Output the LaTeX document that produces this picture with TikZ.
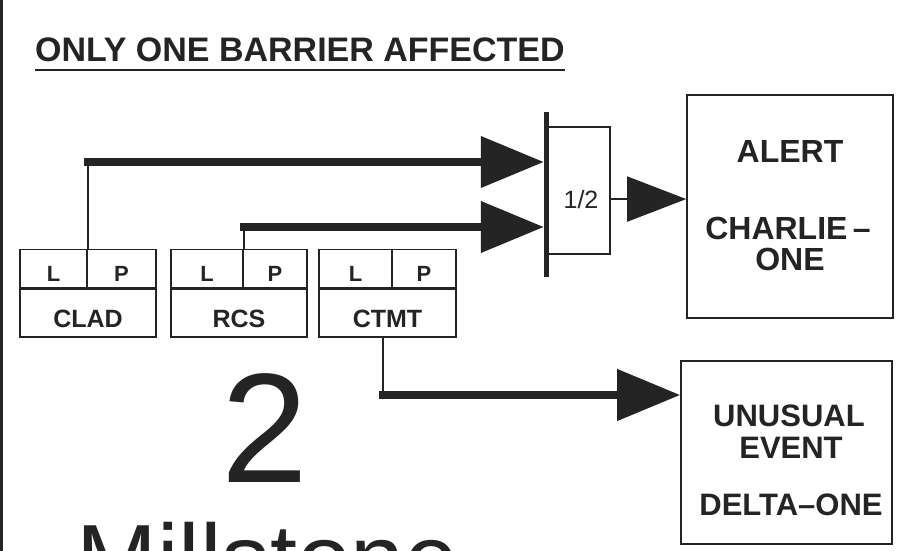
\documentclass[tikz,border=0pt]{standalone}
\usepackage{fontspec}
\setmainfont{Liberation Sans}
\usetikzlibrary{arrows.meta}
\usetikzlibrary{calc}
\usetikzlibrary{positioning}

\definecolor{ink}{gray}{0.14}

\tikzset{
    frame/.style={draw=ink, line width=1.6pt, inner sep=0pt},
    cell/.style={frame, minimum height=38pt},
    namebox/.style={frame, minimum height=48pt},
    celltext/.style={text=ink, inner sep=0pt, anchor=base, font=\bfseries\fontsize{22}{26}\selectfont},
    nametext/.style={text=ink, inner sep=0pt, anchor=base, font=\bfseries\fontsize{25}{30}\selectfont},
    bigtext/.style={text=ink, inner sep=0pt, anchor=base, font=\bfseries\fontsize{32}{38}\selectfont},
    wire/.style={draw=ink, line width=1.8pt},
    feed/.style={draw=ink, line width=7.5pt, line cap=rect, -{Triangle[length=63pt,width=50pt]}},
    outfeed/.style={wire, -{Triangle[length=59pt,width=45pt]}},
}

\begin{document}
\begin{tikzpicture}[x=1pt, y=-1pt]
            \useasboundingbox (0,0) rectangle (914,551);
            \fill[white] (0,0) rectangle (914,551);
            \draw[ink, line width=2.5pt] (1.25,0) -- (1.25,551);

            \node[anchor=base west, inner sep=0pt, text=ink, font=\bfseries\fontsize{34}{40}\selectfont] (title) at (35,62) {ONLY ONE BARRIER AFFECTED};
            \draw[ink, line width=2.5pt] ([yshift=-8pt]title.base west) -- ([yshift=-8pt]title.base east);

            \node[namebox, minimum width=136pt] (clad) at (88,313) {};
            \node[cell, minimum width=67pt, anchor=south west] (cladL) at (clad.north west) {};
            \node[cell, minimum width=69pt, anchor=south east] (cladP) at (clad.north east) {};

            \node[namebox, minimum width=136pt] (rcs) at (239,313) {};
            \node[cell, minimum width=72pt, anchor=south west] (rcsL) at (rcs.north west) {};
            \node[cell, minimum width=64pt, anchor=south east] (rcsP) at (rcs.north east) {};

            \node[namebox, minimum width=137pt] (ctmt) at (387.5,313) {};
            \node[cell, minimum width=73pt, anchor=south west] (ctmtL) at (ctmt.north west) {};
            \node[cell, minimum width=64pt, anchor=south east] (ctmtP) at (ctmt.north east) {};

            \node[nametext] (cladname) at ([yshift=-14pt]clad.center) {CLAD};
            \node[nametext] (rcsname) at ([yshift=-14pt]rcs.center) {RCS};
            \node[nametext] (ctmtname) at ([yshift=-14pt]ctmt.center) {CTMT};
            \node[celltext] (cladl) at ([yshift=-13pt]cladL.center) {L};
            \node[celltext] (cladp) at ([yshift=-13pt]cladP.center) {P};
            \node[celltext] (rcsl) at ([yshift=-13pt]rcsL.center) {L};
            \node[celltext] (rcsp) at ([yshift=-13pt]rcsP.center) {P};
            \node[celltext] (ctmtl) at ([yshift=-13pt]ctmtL.center) {L};
            \node[celltext] (ctmtp) at ([yshift=-13pt]ctmtP.center) {P};

            \node[frame, minimum width=62pt, minimum height=127pt, anchor=west] (gate) at (547,190.5) {};
            \node[fill=ink, inner sep=0pt, minimum width=5pt, minimum height=165pt] (bar) at (546.5,194.5) {};
            \node[text=ink, inner sep=0pt, anchor=base, font=\fontsize{25}{30}\selectfont] (half) at (581,208) {1/2};

            \node[frame, minimum width=206pt, minimum height=223pt] (alert) at (790,206.5) {};
            \node[bigtext] (alerttxt) at (790,162) {ALERT};
            \node[bigtext] (charlie) at (788,239) {CHARLIE\,--};
            \node[bigtext] (alertone) at (790,270) {ONE};

            \node[frame, minimum width=211pt, minimum height=183pt] (event) at (786.5,452.5) {};
            \node[bigtext, font=\bfseries\fontsize{31}{36}\selectfont] (unusual) at (789,426) {UNUSUAL};
            \node[bigtext, font=\bfseries\fontsize{31}{36}\selectfont] (eventtxt) at (791,458) {EVENT};
            \node[bigtext, font=\bfseries\fontsize{31}{36}\selectfont] (delta) at (791,515) {DELTA--ONE};

            \coordinate (c1) at (cladL.north east |- 0,162);
            \coordinate (c2) at (rcsL.north east |- 0,227);
            \coordinate (c3) at (383,395);

            \draw[wire] (cladL.north east) -- (c1);
            \draw[feed] (c1) -- (c1 -| bar.west);
            \draw[wire] (rcsL.north east) -- (c2);
            \draw[feed] (c2) -- (c2 -| bar.west);
            \draw[wire] (c3 |- ctmt.south) -- (c3);
            \draw[feed] (c3) -- (c3 -| event.west);
            \draw[outfeed] (gate.east |- half.center) -- (alert.west |- half.center);

            \node[anchor=base, inner sep=0pt, text=ink, font=\fontsize{156}{160}\selectfont] (two) at (265,482) {2};
            \node[anchor=base west, inner sep=0pt, text=ink, font=\fontsize{97}{100}\selectfont] (mill) at (76,592) {Millstone};
        \end{tikzpicture}
\end{document}
